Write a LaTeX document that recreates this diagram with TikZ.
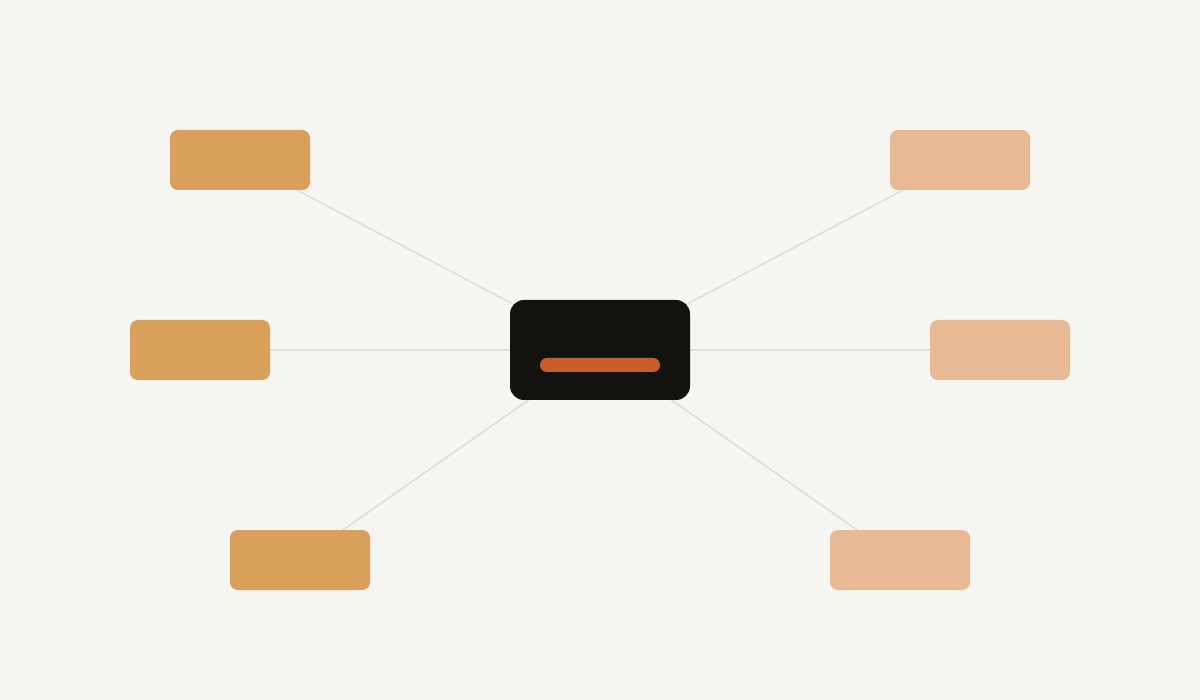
\documentclass[tikz,border=0pt]{standalone}
\usetikzlibrary{backgrounds}
\definecolor{bg}{HTML}{F6F5F1}
\definecolor{hub}{HTML}{13120F}
\definecolor{bar}{HTML}{C95F27}
\definecolor{warm}{HTML}{D9A05C}
\definecolor{soft}{HTML}{E8B995}
\definecolor{link}{HTML}{E2DFDA}
\tikzset{
  leaf/.style={rectangle, rounded corners=8pt, minimum width=140pt, minimum height=60pt, inner sep=0pt, draw=none},
  leftleaf/.style={leaf, fill=warm},
  rightleaf/.style={leaf, fill=soft},
  hubbox/.style={rectangle, rounded corners=14pt, minimum width=180pt, minimum height=100pt, inner sep=0pt, fill=hub},
  hubbar/.style={rectangle, rounded corners=7pt, minimum width=120pt, minimum height=14pt, inner sep=0pt, fill=bar},
  connector/.style={draw=link, line width=1.6pt}
}
\begin{document}
\begin{tikzpicture}[x=1pt,y=-1pt]
\useasboundingbox (0,0) rectangle (1200,700);
\node[hubbox] (hub) at (600,350) {};
\node[hubbar] (hb) at (600,365) {};
\node[leftleaf] (a1) at (240,160) {};
\node[leftleaf] (a2) at (200,350) {};
\node[leftleaf] (a3) at (300,560) {};
\node[rightleaf] (b1) at (960,160) {};
\node[rightleaf] (b2) at (1000,350) {};
\node[rightleaf] (b3) at (900,560) {};
\begin{scope}[on background layer]
\fill[bg] (0,0) rectangle (1200,700);
\foreach \t in {a1,a2,a3,b1,b2,b3} \draw[connector] (hub.center) -- (\t.center);
\end{scope}
\end{tikzpicture}
\end{document}
